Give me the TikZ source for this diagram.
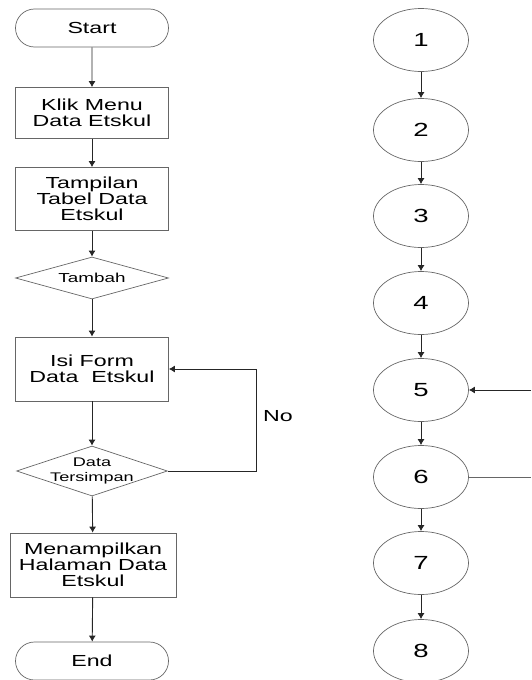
\documentclass[tikz,border=0pt]{standalone}
\usepackage{fontspec}
\setmainfont{Liberation Sans}[FakeStretch=1.45]
\usetikzlibrary{arrows.meta,shapes.geometric,shapes.misc}
\tikzstyle{terminal}=[rounded rectangle,draw=black!60,line width=0.7pt,minimum width=153pt,minimum height=38pt,inner sep=0pt,font=\fontsize{16}{16}\selectfont]
\tikzstyle{process}=[rectangle,draw=black!60,line width=0.7pt,minimum width=153pt,inner sep=0pt,align=center,font=\fontsize{16}{16}\selectfont]
\tikzstyle{decision}=[diamond,aspect=3.6,draw=black!60,line width=0.7pt,minimum width=153pt,minimum height=42pt,inner sep=0pt,font=\fontsize{13}{13}\selectfont]
\tikzstyle{vertex}=[ellipse,draw=black!60,line width=0.7pt,minimum width=95pt,minimum height=63pt,inner sep=0pt,font=\fontsize{19}{19}\selectfont]
\tikzstyle{edge}=[draw,black!85,line width=0.9pt,-{Latex[length=6pt,width=7pt]}]
\tikzstyle{link}=[draw,black!60,line width=0.9pt]

\begin{document}
\begin{tikzpicture}[x=1pt,y=-1pt]
    \useasboundingbox (0,0) rectangle (531,680);
    % Flowchart on the left
    \node[terminal] (start) at (92,28) {Start};
    \node[process,minimum height=51pt] (klik) at (92,113) {Klik Menu\\Data Etskul};
    \node[process,minimum height=63pt] (tabel) at (92,199) {Tampilan\\Tabel Data\\Etskul};
    \node[decision] (tambah) at (92,278) {Tambah};
    \node[process,minimum height=64pt] (isi) at (92,369) {Isi Form\\Data\ \ Etskul};
    \node[decision,minimum width=151pt,minimum height=50pt,
          label={[font=\fontsize{12.5}{15}\selectfont,align=center]center:{Data\\Tersimpan}}] (simpan) at (92,471) {};
    \node[process,minimum width=166pt,minimum height=64pt] (halaman) at (93,565) {Menampilkan\\Halaman Data\\Etskul};
    \node[terminal] (finish) at (92,661) {End};

    % Connect the steps
    \foreach \source/ \dest in {start/klik, klik/tabel, tabel/tambah, tambah/isi, isi/simpan, simpan/halaman, halaman/finish}
        \path[edge] (\source) -- (\dest);

    % Loop back when the data is not saved
    \coordinate (turn) at (256,471);
    \path[edge] (simpan.east) -- (turn) |- (isi.east);
    \node[font=\fontsize{16}{16}\selectfont] (no) at (278,416) {No};

    % Flow graph on the right
    \foreach \pos/ \name in {{(421,40)/1},{(421,130)/2},{(421,216)/3},{(421,303)/4},{(421,390)/5},{(421,477)/6},{(421,563)/7},{(421,651)/8}}
        \node[vertex] (v\name) at \pos {\name};

    \foreach \source/ \dest in {1/2, 2/3, 3/4, 4/5, 5/6, 6/7, 7/8}
        \path[edge] (v\source) -- (v\dest);

    \coordinate (back) at (531,390);
    \coordinate (out) at (531,477);
    \path[edge] (back) -- (v5.east);
    \path[link] (v6.east) -- (out);
\end{tikzpicture}
\end{document}
